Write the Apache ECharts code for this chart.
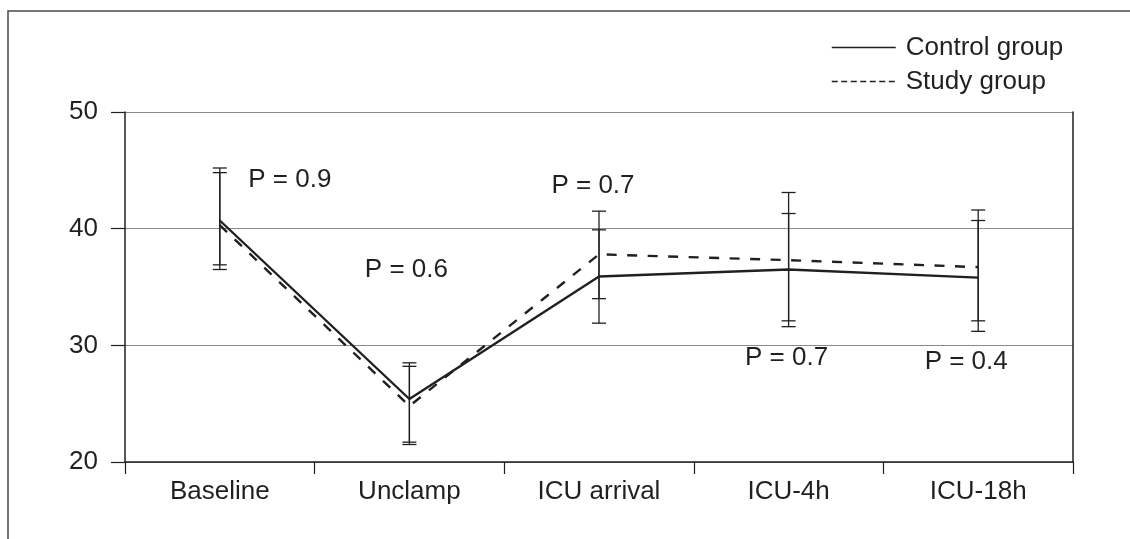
<!DOCTYPE html>
<html>
<head>
<meta charset="utf-8">
<script src="https://cdn.jsdelivr.net/npm/echarts@6/dist/echarts.min.js"></script>
<style>
html,body{margin:0;padding:0;background:#fff;}
#c{width:1130px;height:539px;}
</style>
</head>
<body>
<div id="c"></div>
<script>
const categories = ['Baseline', 'Unclamp', 'ICU arrival', 'ICU-4h', 'ICU-18h'];
const controlMean = [40.7, 25.4, 35.9, 36.5, 35.8];
const studyMean = [40.3, 24.8, 37.8, 37.3, 36.7];
const controlLow = [36.5, 21.7, 31.9, 31.6, 31.2];
const controlHigh = [45.2, 28.5, 39.9, 41.3, 40.7];
const studyLow = [36.9, 21.5, 34.0, 32.1, 32.1];
const studyHigh = [44.8, 28.2, 41.5, 43.1, 41.6];
const pTexts = ['P = 0.9', 'P = 0.6', 'P = 0.7', 'P = 0.7', 'P = 0.4'];
const pTextY = [44.2, 36.5, 43.7, 28.9, 28.6];
const yTicks = [20, 30, 40, 50];

const INK = '#231f20';
const FONT = '"Liberation Sans", Arial, Helvetica, sans-serif';
const FS = 26;

const chart = echarts.init(document.getElementById('c'), null, {renderer: 'canvas'});

function errData(lo, hi) {
  return categories.map((c, i) => [i, lo[i], hi[i]]);
}
function renderErr(params, api) {
  const x = api.value(0);
  const pLo = api.coord([x, api.value(1)]);
  const pHi = api.coord([x, api.value(2)]);
  const w = 7;
  const style = {stroke: INK, lineWidth: 1.3, fill: null};
  return {
    type: 'group',
    children: [
      {type: 'line', shape: {x1: pLo[0], y1: pLo[1], x2: pHi[0], y2: pHi[1]}, style},
      {type: 'line', shape: {x1: pLo[0] - w, y1: pLo[1], x2: pLo[0] + w, y2: pLo[1]}, style},
      {type: 'line', shape: {x1: pHi[0] - w, y1: pHi[1], x2: pHi[0] + w, y2: pHi[1]}, style}
    ]
  };
}

const labelDx = [70, -3, -6, -2, -12];

const option = {
  backgroundColor: '#fff',
  animation: false,
  textStyle: {fontFamily: FONT, color: INK},
  grid: {left: 125, right: 57, top: 112, bottom: 77, containLabel: false},
  graphic: [{
    type: 'polyline',
    shape: {points: [[8, 539], [8, 11], [1130, 11]]},
    style: {stroke: '#4a4a4a', lineWidth: 1.5, fill: null},
    silent: true
  }],
  legend: {
    orient: 'vertical',
    left: 826,
    top: 28,
    itemWidth: 64,
    itemHeight: 14,
    itemGap: 5,
    itemStyle: {opacity: 0},
    textStyle: {fontSize: FS, color: INK, fontFamily: FONT, lineHeight: 29, padding: [0, 0, 0, 5]},
    data: [
      {name: 'Control group', itemStyle: {opacity: 0}, lineStyle: {type: 'solid', width: 1.5, color: INK, opacity: 1}},
      {name: 'Study group', itemStyle: {opacity: 0}, lineStyle: {type: [6, 3.5], width: 1.5, color: INK, opacity: 1}}
    ]
  },
  xAxis: {
    type: 'category',
    data: categories,
    boundaryGap: true,
    axisLine: {show: true, lineStyle: {color: INK, width: 1.5}},
    axisTick: {show: true, length: 12, lineStyle: {color: INK, width: 1.2}},
    axisLabel: {fontSize: FS, color: INK, fontFamily: FONT, margin: 17},
    splitLine: {show: false}
  },
  yAxis: [{
    type: 'value',
    min: 20, max: 50, interval: 10,
    axisLine: {show: true, lineStyle: {color: INK, width: 1.5}},
    axisTick: {show: true, length: 14, lineStyle: {color: INK, width: 1.2}},
    axisLabel: {fontSize: FS, color: INK, fontFamily: FONT, margin: 27,
      formatter: v => yTicks.includes(v) ? String(v) : ''},
    splitLine: {show: true, lineStyle: {color: '#8a8a8a', width: 1.2}}
  }, {
    type: 'value',
    position: 'right',
    min: 20, max: 50, interval: 10,
    axisLine: {show: true, lineStyle: {color: INK, width: 1.5}},
    axisTick: {show: false},
    axisLabel: {show: false},
    splitLine: {show: false}
  }],
  series: [
    {
      name: 'Control group',
      type: 'line',
      data: controlMean,
      symbol: 'none',
      lineStyle: {color: INK, width: 2.4, type: 'solid'},
      itemStyle: {color: INK},
      z: 3
    },
    {
      name: 'Study group',
      type: 'line',
      data: studyMean,
      symbol: 'none',
      lineStyle: {color: INK, width: 2.4, type: [10, 10.5]},
      itemStyle: {color: INK},
      z: 3
    },
    {
      type: 'custom',
      renderItem: renderErr,
      data: errData(controlLow, controlHigh),
      encode: {x: 0, y: [1, 2]},
      silent: true,
      z: 2
    },
    {
      type: 'custom',
      renderItem: renderErr,
      data: errData(studyLow, studyHigh),
      encode: {x: 0, y: [1, 2]},
      silent: true,
      z: 2
    },
    {
      type: 'scatter',
      symbolSize: 0,
      silent: true,
      itemStyle: {opacity: 1},
      data: pTexts.map((t, i) => ({
        value: [i, pTextY[i]],
        label: {offset: [labelDx[i], 0]}
      })),
      label: {
        show: true,
        position: 'inside',
        fontSize: FS,
        color: INK,
        opacity: 1,
        fontFamily: FONT,
        formatter: p => pTexts[p.dataIndex]
      },
      z: 4
    }
  ]
};
chart.setOption(option);
</script>
</body>
</html>
